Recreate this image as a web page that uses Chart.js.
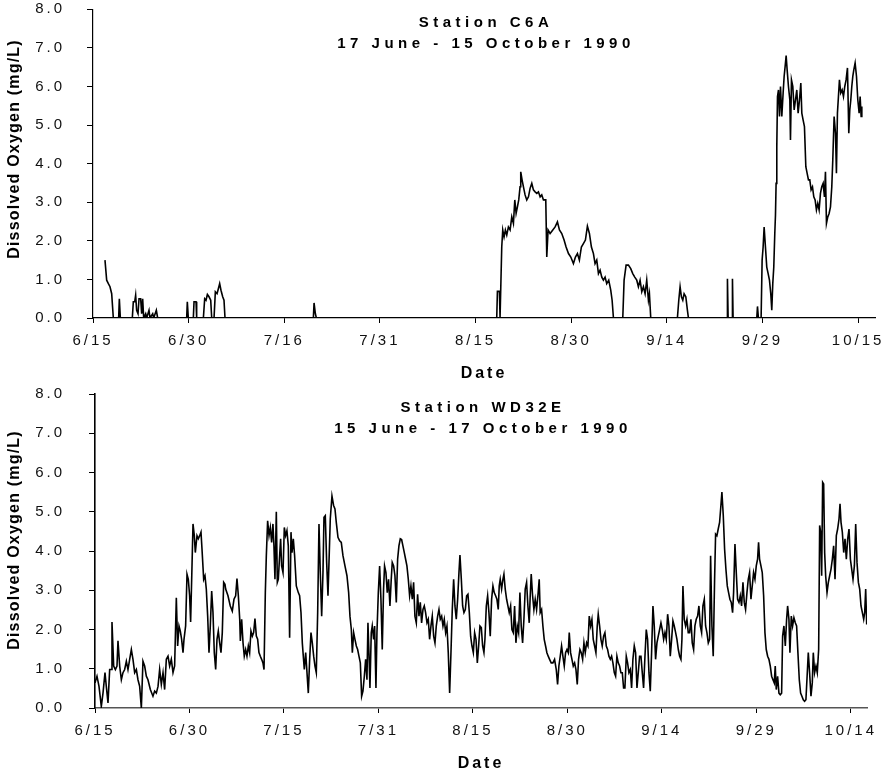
<!DOCTYPE html>
<html>
<head>
<meta charset="utf-8">
<title>Dissolved Oxygen, Stations C6A and WD32E, 1990</title>
<script src="https://cdn.jsdelivr.net/npm/chart.js@4/dist/chart.umd.min.js"></script>
<style>
  html, body { margin: 0; padding: 0; background: #fff; }
  #wrap { position: relative; width: 886px; height: 774px; }
  .panel { position: absolute; left: 0; width: 886px; height: 387px; }
  canvas { display: block; }
</style>
</head>
<body>
<div id="wrap">
  <div class="panel" style="top:0"><canvas id="c6a" width="886" height="387"></canvas></div>
  <div class="panel" style="top:387px"><canvas id="wd32e" width="886" height="387"></canvas></div>
</div>
<script>
// ---- Station C6A, 17 June - 15 October 1990 (x = days after 15 June) ----
const C6A_DAY = [
  1.91, 2.18, 2.45, 2.71, 2.98, 3.24, 4.09, 4.2, 4.36, 6.27, 6.43, 6.65, 6.8, 6.96, 7.18, 7.34, 7.6, 7.76, 7.92, 8.08,
  8.4, 8.56, 8.93, 9.09, 9.52, 9.68, 10.1, 10.31, 14.94, 15.04, 15.2, 16.0, 16.11, 16.43, 16.53, 17.6, 17.81, 18.02, 18.24, 18.5,
  18.77, 18.93, 19.3, 19.51, 19.78, 19.99, 20.2, 20.41, 20.68, 20.89, 21.05, 35.14, 35.25, 35.46, 35.62,
  64.38, 64.49, 64.81, 64.91, 65.02, 65.18, 65.34, 65.55, 65.76, 65.98, 66.24, 66.51, 66.78, 67.04, 67.26, 67.47, 67.68, 67.89, 68.1, 68.21,
  68.42, 68.64, 68.9, 69.17, 69.44, 69.7, 69.97, 70.23, 70.5, 70.77, 71.03, 71.3, 71.56, 71.83, 72.2, 72.36, 72.57, 72.89, 73.32, 73.69,
  74.06, 74.38, 74.75, 75.12, 75.44, 75.82, 76.19, 76.61, 76.93, 77.25, 77.56, 77.88, 78.2, 78.52, 78.84, 79.16, 79.48, 79.8, 80.06, 80.33,
  80.6, 80.86, 81.13, 81.39, 81.66, 81.92, 82.24, 82.56, 82.78, 82.99, 84.48, 84.69, 85.01, 85.38, 85.75, 86.07, 86.39, 86.71, 86.97, 87.24,
  87.51, 87.77, 88.04, 88.3, 88.57, 88.73, 88.94, 93.19, 93.41, 93.62, 93.83, 94.05, 94.26, 94.53, 94.79, 94.95, 101.12, 101.17, 101.28, 101.91,
  101.97, 102.07, 105.85, 105.96, 106.11, 106.54, 106.7, 106.86, 107.02, 107.23, 107.44, 107.66, 107.87, 108.08, 108.24, 108.4, 108.56, 108.72, 108.83, 108.93,
  109.04, 109.15, 109.31, 109.47, 109.63, 109.84, 110.05, 110.21, 110.37, 110.53, 110.69, 110.9, 111.12, 111.22, 111.38, 111.59, 111.81, 112.02, 112.23, 112.44,
  112.66, 112.87, 113.03, 113.24, 113.45, 113.67, 113.88, 114.09, 114.3, 114.51, 114.73, 114.94, 115.15, 115.36, 115.57, 115.79, 116.0, 116.21, 116.43, 116.64,
  116.8, 116.96, 117.17, 117.38, 117.6, 117.81, 117.97, 118.18, 118.4, 118.55, 118.71, 118.87, 119.03, 119.24, 119.46, 119.67, 119.88, 120.09, 120.31, 120.52,
  120.68, 120.84, 121.0, 121.16, 121.32, 121.53, 121.75, 121.96, 122.17, 122.33, 122.49, 122.6
];
const C6A_DO = [
  1.5, 0.98, 0.89, 0.81, 0.63, 0, 0, 0.5, 0, 0, 0.42, 0.42, 0.59, 0.2, 0.11, 0.5, 0.5, 0.11, 0.5, 0,
  0.11, 0, 0.2, 0, 0.11, 0, 0.2, 0, 0, 0.42, 0, 0, 0.42, 0.42, 0, 0, 0.5, 0.46, 0.61, 0.55,
  0.46, 0, 0, 0.68, 0.63, 0.76, 0.89, 0.72, 0.55, 0.46, 0, 0, 0.39, 0.11, 0,
  0, 0.69, 0.69, 0, 0, 1.84, 2.28, 2.1, 2.28, 2.15, 2.36, 2.28, 2.62, 2.45, 3.06, 2.71, 2.88, 3.06, 3.4, 3.79,
  3.58, 3.4, 3.19, 3.06, 3.14, 3.36, 3.49, 3.32, 3.27, 3.23, 3.27, 3.14, 3.19, 3.06, 3.06, 1.58, 2.28, 2.19, 2.28, 2.36,
  2.49, 2.28, 2.19, 2.02, 1.84, 1.67, 1.58, 1.41, 1.58, 1.67, 1.5, 1.84, 1.93, 2.02, 2.38, 2.19, 1.84, 1.67, 1.41, 1.5,
  1.15, 1.24, 1.06, 0.98, 1.06, 0.89, 0.98, 0.72, 0.46, 0, 0, 0.98, 1.37, 1.37, 1.28, 1.15, 1.06, 0.98, 0.81, 0.98,
  0.68, 0.81, 0.63, 0.98, 0.46, 0.63, 0, 0, 0.46, 0.81, 0.55, 0.46, 0.63, 0.55, 0.2, 0, 0, 1.02, 0, 0,
  1.02, 0, 0, 0.3, 0, 0, 1.5, 1.84, 2.36, 1.84, 1.32, 1.15, 0.98, 0.63, 0.2, 0.89, 1.32, 2.19, 2.67, 3.49,
  4.44, 5.74, 5.91, 5.22, 6.0, 5.22, 5.83, 6.26, 6.52, 6.8, 6.43, 6.0, 5.65, 4.61, 6.17, 6.0, 5.39, 5.65, 5.91, 5.31,
  5.65, 6.09, 5.31, 5.13, 4.96, 3.92, 3.75, 3.58, 3.58, 3.32, 3.4, 3.14, 3.06, 2.8, 2.97, 2.8, 3.23, 3.4, 3.49, 3.14,
  3.79, 2.45, 2.62, 2.71, 2.88, 3.4, 4.1, 5.22, 4.79, 3.75, 5.31, 5.74, 6.17, 5.83, 5.91, 5.74, 6.0, 6.17, 6.48, 4.79,
  5.39, 5.65, 6.0, 6.26, 6.43, 6.61, 6.26, 5.65, 5.31, 5.74, 5.22, 5.48
];

// ---- Station WD32E, 15 June - 17 October 1990 (x = days after 15 June) ----
const WD32E_DAY = [
  0, 0.32, 0.64, 1.01, 1.28, 1.6, 1.81, 2.08, 2.35, 2.61, 2.72, 2.99, 3.26, 3.52, 3.68, 3.95, 4.22, 4.48, 4.75, 5.02,
  5.28, 5.55, 5.82, 6.08, 6.35, 6.62, 6.88, 7.15, 7.42, 7.68, 7.95, 8.22, 8.48, 8.86, 9.28, 9.55, 9.82, 10.09, 10.35, 10.62,
  10.89, 11.15, 11.42, 11.69, 11.95, 12.22, 12.49, 12.75, 13.02, 13.23, 13.45, 13.66, 13.87, 14.09, 14.25, 14.51, 14.73, 14.94, 15.15, 15.31,
  15.53, 15.69, 15.9, 16.06, 16.33, 16.54, 16.76, 16.97, 17.13, 17.4, 17.61, 17.82, 18.04, 18.25, 18.46, 18.68, 18.89, 19.1, 19.32, 19.53,
  19.74, 19.96, 20.17, 20.38, 20.6, 20.81,
  20.92, 21.29, 21.66, 21.98, 22.25, 22.52, 22.73, 22.95, 23.17, 23.27, 23.48, 23.7, 23.9, 24.12, 24.33, 24.55, 24.76, 24.97, 25.19, 25.4,
  25.61, 25.83, 26.04, 26.25, 26.47, 26.68, 26.89, 27.06, 27.27, 27.43, 27.64, 27.86, 28.07, 28.28, 28.49, 28.65, 28.81, 29.03, 29.19, 29.35,
  29.56, 29.72, 29.88, 30.1, 30.31, 30.52, 30.73, 30.95, 31.16, 31.38, 31.54, 31.75, 31.96, 32.23, 32.55, 32.76, 32.98, 33.19, 33.35, 33.51,
  33.73, 33.94, 34.15, 34.37, 34.58, 34.79, 35.01, 35.22, 35.43, 35.65, 35.86, 36.07, 36.29, 36.5, 36.66, 36.87, 37.09, 37.3, 37.51, 37.67,
  37.94, 38.2, 38.42, 38.63, 38.9, 39.17, 39.43, 39.7, 40.02, 40.34, 40.61, 40.82, 41.04, 41.2, 41.41, 41.62,
  41.84, 42.05, 42.26, 42.48, 42.69, 42.9, 43.12, 43.33, 43.54, 43.7, 43.86, 44.02, 44.23, 44.39, 44.61, 44.77, 44.98, 45.14, 45.36, 45.57,
  45.78, 45.99, 46.2, 46.36, 46.58, 46.79, 47.0, 47.22, 47.43, 47.59, 47.81, 48.02, 48.24, 48.45, 48.66, 48.88, 49.09, 49.3, 49.52, 49.73,
  49.94, 50.16, 50.37, 50.58, 50.8, 51.01, 51.22, 51.44, 51.65, 51.87, 52.08, 52.29, 52.51, 52.72, 52.93, 53.15, 53.36, 53.57, 53.79, 54.0,
  54.22, 54.43, 54.64, 54.86, 55.07, 55.28, 55.5, 55.71, 55.92, 56.14, 56.35, 56.56, 56.78, 56.99, 57.2, 57.42, 57.63, 57.84, 58.06, 58.27,
  58.43, 58.65, 58.86, 59.07, 59.29, 59.5, 59.71, 59.93, 60.14, 60.35, 60.57, 60.78, 61.0, 61.21, 61.42, 61.63, 61.85, 62.06, 62.27, 62.43,
  62.65, 62.86, 63.07, 63.28, 63.5, 63.71, 63.92, 64.14, 64.35, 64.56, 64.72, 64.88, 65.1, 65.31, 65.47, 65.68, 65.9, 66.11, 66.32, 66.54,
  66.75, 66.97, 67.18, 67.39, 67.61, 67.82, 68.03, 68.24, 68.46, 68.67, 68.88, 69.1, 69.31, 69.52, 69.68, 69.84, 70.06, 70.27, 70.48, 70.7,
  70.91, 71.12, 71.28, 71.5, 71.71, 71.92, 72.14, 72.35, 72.56, 72.78, 73.04, 73.31, 73.58, 73.85, 74.06, 74.27, 74.49, 74.7, 74.91, 75.13,
  75.34, 75.56, 75.77, 75.93, 76.14, 76.36, 76.57, 76.79, 77.0, 77.21, 77.42, 77.64, 77.85, 78.07, 78.28, 78.49, 78.71, 78.92, 79.13, 79.35,
  79.56, 79.77, 79.99, 80.2, 80.41, 80.57, 80.79, 81.0, 81.21, 81.43, 81.64, 81.86, 82.07, 82.28, 82.5, 82.71, 82.92, 83.14,
  83.35, 83.56, 83.78, 83.99, 84.2, 84.42, 84.63, 84.84, 85.06, 85.27, 85.48, 85.7, 85.91, 86.12, 86.34, 86.55, 86.77, 86.98, 87.19, 87.41,
  87.62, 87.83, 88.05, 88.26, 88.47, 88.69, 88.9, 89.11, 89.33, 89.54, 89.75, 89.97, 90.18, 90.4, 90.61, 90.82, 91.04, 91.25, 91.46, 91.68,
  91.89, 92.1, 92.32, 92.53, 92.74, 92.96, 93.17, 93.39, 93.6, 93.81, 93.97, 94.13, 94.34, 94.56, 94.77, 94.98, 95.2, 95.41, 95.62, 95.84,
  96.05, 96.26, 96.48, 96.69, 96.91, 97.12, 97.33, 97.55, 97.76, 97.97, 98.19, 98.4, 98.56, 98.77, 98.98, 99.2, 99.36, 99.57, 99.78, 100.0,
  100.21, 100.37, 100.59, 100.8, 101.01, 101.23, 101.44, 101.65, 101.87, 102.08, 102.24, 102.46, 102.67, 102.88, 103.1, 103.31, 103.52, 103.74, 103.95,
  104.16, 104.38, 104.59, 104.8, 105.02, 105.23, 105.44, 105.66, 105.87, 106.08, 106.24, 106.4, 106.62, 106.83, 107.05, 107.26, 107.47, 107.69, 107.9, 108.11,
  108.33, 108.54, 108.75, 108.91, 109.07, 109.29, 109.5, 109.71, 109.93, 110.09, 110.3, 110.52, 110.73, 110.89, 111.1, 111.26, 111.48, 111.69, 111.9, 112.12,
  112.33, 112.54, 112.76, 112.97, 113.18, 113.4, 113.61, 113.82, 114.04, 114.2, 114.41, 114.63, 114.84, 115.0, 115.21, 115.43, 115.64, 115.86, 116.02, 116.18,
  116.34, 116.5, 116.66, 116.82, 116.98, 117.2, 117.41, 117.62, 117.84, 118.05, 118.26, 118.48, 118.69, 118.9, 119.12, 119.28, 119.44, 119.65, 119.87, 120.08,
  120.29, 120.51, 120.72, 120.94, 121.15, 121.36, 121.58, 121.79, 122.0, 122.22, 122.43, 122.64, 122.86, 123.07, 123.23, 123.39, 123.55
];
const WD32E_DO = [
  0.64, 0.81, 0.55, 0.04, 0.38, 0.9, 0.55, 0.13, 0.98, 0.98, 2.19, 1.07, 0.98, 1.07, 1.71, 1.07, 0.72, 0.9, 0.98, 1.19,
  0.98, 1.24, 1.49, 1.24, 0.9, 0.98, 0.72, 0.55, 0.0, 1.19, 1.07, 0.81, 0.72, 0.47, 0.3, 0.43, 0.38, 0.55, 0.98, 0.6,
  0.9, 0.47, 1.24, 1.32, 1.07, 1.24, 0.9, 1.07, 2.81, 1.58, 2.09, 1.96, 1.75, 1.41, 1.75, 2.09, 3.41, 3.28, 2.86, 2.19,
  3.62, 4.69, 4.39, 3.96, 4.39, 4.31, 4.39, 4.48, 4.05, 3.28, 3.37, 3.03, 2.34, 1.41, 2.09, 2.98, 2.43, 1.41, 0.98, 1.75,
  1.96, 1.66, 1.41, 1.92, 3.2, 3.15,
  3.03, 2.86, 2.6, 2.47, 2.77, 2.86, 3.3, 2.86, 2.26, 1.71, 2.26, 1.66, 1.32, 1.49, 1.32, 1.58, 1.41, 1.96, 1.83, 1.92,
  2.28, 1.83, 1.75, 1.41, 1.32, 1.24, 1.15, 0.98, 2.94, 3.88, 4.77, 4.39, 4.6, 4.22, 4.69, 4.13, 3.28, 5.0, 3.2, 3.28,
  3.88, 4.31, 3.62, 3.45, 4.6, 4.39, 4.52, 4.13, 1.79, 4.48, 3.96, 4.31, 3.88, 3.11, 2.94, 2.86, 2.43, 1.66, 1.32, 0.98,
  1.41, 0.9, 0.38, 1.24, 1.92, 1.66, 1.32, 1.07, 0.9, 2.43, 4.69, 3.45, 2.34, 3.45, 4.86, 4.9, 3.71, 2.86, 3.96, 4.82,
  5.4, 5.16, 5.07, 4.73, 4.35, 4.26, 4.22, 3.88, 3.62, 3.37, 2.94, 2.34, 2.0, 1.41, 1.92, 1.75,
  1.58, 1.49, 1.32, 1.15, 0.3, 0.43, 0.81, 1.24, 0.72, 2.17, 1.41, 0.51, 1.92, 2.09, 1.75, 2.09, 0.51, 1.92, 2.94, 3.62,
  2.77, 1.49, 3.03, 3.62, 3.45, 2.94, 3.28, 2.6, 3.28, 3.71, 3.62, 3.37, 2.69, 3.79, 4.13, 4.31, 4.29, 4.13, 3.96, 3.79,
  3.62, 3.28, 2.86, 3.11, 2.77, 3.2, 2.34, 2.17, 2.9, 2.34, 2.69, 2.17, 2.51, 2.6, 2.43, 2.17, 2.26, 1.75, 2.09, 2.34,
  1.83, 1.66, 2.09, 2.34, 2.51, 2.26, 2.34, 2.09, 2.26, 1.92, 2.09, 1.41, 0.38, 1.41, 2.51, 3.28, 2.6, 2.26, 2.77, 3.45,
  3.9, 3.28, 2.6, 2.43, 2.51, 2.86, 2.9, 2.43, 1.83, 1.58, 1.41, 1.92, 1.75, 1.15, 1.58, 2.09, 2.05, 1.58, 1.41, 1.75,
  2.6, 2.86, 2.43, 1.83, 2.77, 3.11, 2.94, 2.86, 2.77, 2.51, 3.11, 3.28, 3.03, 3.28, 3.41, 3.03, 2.77, 2.6, 2.43, 2.6,
  2.0, 1.92, 2.6, 1.66, 2.09, 1.92, 2.94, 2.09, 1.66, 2.26, 3.03, 3.2, 2.6, 2.17, 2.86, 3.41, 2.86, 2.51, 2.77, 2.51,
  2.86, 3.28, 2.43, 2.51, 2.09, 1.75, 1.58, 1.41, 1.32, 1.24, 1.15, 1.15, 1.24, 0.98, 0.6, 1.07, 1.32, 1.58, 1.32, 1.07,
  1.41, 1.49, 1.41, 1.92, 1.41, 1.24, 1.07, 1.15, 0.98, 0.6, 1.24, 1.49, 1.41, 1.24, 1.66, 1.41, 1.66, 1.58, 2.34, 2.09,
  2.26, 1.75, 1.58, 1.41, 2.09, 2.39, 2.09, 1.75, 1.58, 1.83, 1.92, 1.58, 1.49, 1.32, 1.24, 1.32, 1.15, 0.9,
  0.81, 1.32, 1.15, 1.07, 0.9, 0.9, 0.51, 0.51, 1.32, 1.15, 0.9, 0.98, 0.51, 1.24, 1.58, 1.41, 0.51, 0.9, 1.32, 1.32,
  0.9, 0.51, 1.32, 2.0, 1.75, 0.9, 0.43, 1.41, 2.6, 2.09, 1.24, 1.66, 1.83, 2.0, 2.17, 2.0, 1.75, 1.92, 1.75, 2.39,
  2.09, 1.32, 1.75, 2.22, 2.09, 1.92, 1.75, 1.49, 1.32, 1.24, 1.75, 3.11, 2.26, 2.09, 2.26, 1.92, 1.92, 2.26, 1.66, 1.49,
  2.09, 2.26, 2.34, 2.6, 2.09, 1.92, 2.6, 2.77, 2.09, 1.92, 1.66, 1.75, 3.88, 2.09, 1.32, 3.28, 4.43, 4.39, 4.56, 4.73,
  5.16, 5.5, 4.9, 4.05, 3.54, 3.11, 2.94, 2.77, 2.69, 2.43, 2.94, 4.18, 3.45, 2.77, 2.69, 2.86, 2.6, 3.2, 2.69,
  2.51, 2.94, 3.28, 3.45, 2.77, 3.11, 3.45, 3.28, 3.62, 3.79, 4.22, 3.79, 3.62, 3.45, 2.86, 1.92, 1.49, 1.32, 1.24, 1.07,
  0.81, 0.72, 0.64, 1.07, 0.47, 0.81, 0.38, 0.34, 0.38, 1.83, 2.09, 1.58, 2.26, 2.6, 2.26, 1.41, 2.34, 2.09, 2.3, 2.17,
  2.09, 1.41, 0.72, 0.38, 0.3, 0.21, 0.17, 0.21, 0.9, 1.41, 0.9, 0.3, 0.64, 1.41, 0.9, 1.07, 0.9, 1.49, 4.65, 4.48,
  3.37, 5.75, 5.71, 3.96, 3.37, 2.94, 3.2, 3.37, 3.54, 3.79, 4.13, 3.28, 4.39, 4.56, 4.82, 5.2, 4.73, 4.48, 3.96, 4.31,
  3.79, 4.31, 4.56, 3.79, 3.54, 3.28, 3.62, 4.69, 3.71, 3.2, 3.03, 2.6, 2.43, 2.26, 2.43, 3.03, 2.13
];

// ---- Axis ticks ----
const C6A_TICK_DAYS = [0, 15.25, 30.5, 45.75, 61, 76.25, 91.5, 106.75, 122];
const C6A_TICK_LABELS = ['6/15', '6/30', '7/16', '7/31', '8/15', '8/30', '9/14', '9/29', '10/15'];
const WD32E_TICK_DAYS = [0, 15.125, 30.25, 45.375, 60.5, 75.625, 90.75, 105.875, 121];
const WD32E_TICK_LABELS = ['6/15', '6/30', '7/15', '7/31', '8/15', '8/30', '9/14', '9/29', '10/14'];
const DO_TICKS = [0, 1, 2, 3, 4, 5, 6, 7, 8];

const FONT = '"Liberation Sans", Arial, Helvetica, sans-serif';
const TICK_SPACING = '3px';

// Letter-spaced axis text, plus the in-plot station title and the rotated y-axis title.
const spacedText = {
  id: 'spacedText',
  beforeLayout(chart) { chart.ctx.letterSpacing = TICK_SPACING; },
  beforeDraw(chart) { chart.ctx.letterSpacing = TICK_SPACING; },
  afterDraw(chart, args, opts) {
    const ctx = chart.ctx;
    const a = chart.chartArea;
    ctx.save();
    ctx.fillStyle = '#000';
    ctx.textAlign = 'center';
    ctx.textBaseline = 'alphabetic';
    ctx.font = 'bold 15px ' + FONT;
    ctx.letterSpacing = '4.5px';
    const cx = (a.left + a.right) / 2 + 2;
    opts.lines.forEach((t, i) => ctx.fillText(t, cx, a.top + opts.baselines[i]));
    ctx.restore();

    ctx.save();
    ctx.fillStyle = '#000';
    ctx.letterSpacing = '1.2px';
    ctx.font = 'bold 16px ' + FONT;
    ctx.textAlign = 'center';
    ctx.textBaseline = 'middle';
    ctx.translate(opts.yTitleX, opts.yTitleY);
    ctx.rotate(-Math.PI / 2);
    ctx.fillText('Dissolved Oxygen (mg/L)', 0, 0);
    ctx.restore();
  }
};

function stationChart(canvasId, cfg) {
  const points = cfg.days.map((d, i) => ({ x: d, y: cfg.values[i] }));
  return new Chart(document.getElementById(canvasId), {
    type: 'line',
    data: {
      datasets: [{
        data: points,
        borderColor: '#000',
        borderWidth: 1.6,
        pointRadius: 0,
        tension: 0,
        fill: false
      }]
    },
    options: {
      responsive: false,
      animation: false,
      devicePixelRatio: 1,
      events: [],
      layout: { autoPadding: false, padding: { top: cfg.padTop, right: cfg.padRight, left: 0, bottom: 0 } },
      plugins: {
        legend: { display: false },
        tooltip: { enabled: false },
        spacedText: {
          lines: cfg.title,
          baselines: [18, 38.5],
          yTitleX: 15,
          yTitleY: cfg.yTitleY
        }
      },
      scales: {
        x: {
          type: 'linear',
          min: 0,
          max: cfg.xMax,
          afterBuildTicks: s => { s.ticks = cfg.tickDays.map(v => ({ value: v })); },
          afterFit: s => { s.height = cfg.xHeight; s.paddingLeft = 0; s.paddingRight = 0; },
          ticks: {
            autoSkip: false,
            maxRotation: 0,
            padding: 9,
            color: '#111',
            font: { family: FONT, size: 15 },
            callback: (v, i) => cfg.tickLabels[i]
          },
          grid: { drawOnChartArea: false, drawTicks: true, tickLength: 5, color: '#000', lineWidth: 1 },
          border: { display: true, color: cfg.xAxisColor, width: cfg.axisWidth },
          title: {
            display: true,
            text: 'Date',
            color: '#000',
            font: { family: FONT, size: 16, weight: 'bold' },
            padding: { top: 0, bottom: cfg.dateBottom }
          }
        },
        y: {
          min: 0,
          max: 8,
          afterBuildTicks: s => { s.ticks = DO_TICKS.map(v => ({ value: v })); },
          afterFit: s => { s.width = cfg.yWidth; s.paddingTop = 0; s.paddingBottom = 0; },
          ticks: {
            padding: cfg.yTickPad,
            color: '#111',
            font: { family: FONT, size: 15 },
            callback: v => Number(v).toFixed(1)
          },
          grid: { drawOnChartArea: false, drawTicks: true, tickLength: 6, color: '#000', lineWidth: 1 },
          border: { display: true, color: '#000', width: cfg.axisWidth }
        }
      }
    },
    plugins: [spacedText]
  });
}

stationChart('c6a', {
  days: C6A_DAY, values: C6A_DO,
  tickDays: C6A_TICK_DAYS, tickLabels: C6A_TICK_LABELS,
  title: ['Station C6A', '17 June - 15 October 1990'],
  xMax: 124.7, padTop: 9.3, padRight: 11, xHeight: 69, yWidth: 93,
  yTickPad: 22, dateBottom: 4, yTitleY: 149,
  xAxisColor: '#000', axisWidth: 1.2
});

stationChart('wd32e', {
  days: WD32E_DAY, values: WD32E_DO,
  tickDays: WD32E_TICK_DAYS, tickLabels: WD32E_TICK_LABELS,
  title: ['Station WD32E', '15 June - 17 October 1990'],
  xMax: 123.6, padTop: 7, padRight: 19, xHeight: 66, yWidth: 95,
  yTickPad: 24, dateBottom: 1, yTitleY: 153,
  xAxisColor: '#555', axisWidth: 1.6
});
</script>
</body>
</html>
